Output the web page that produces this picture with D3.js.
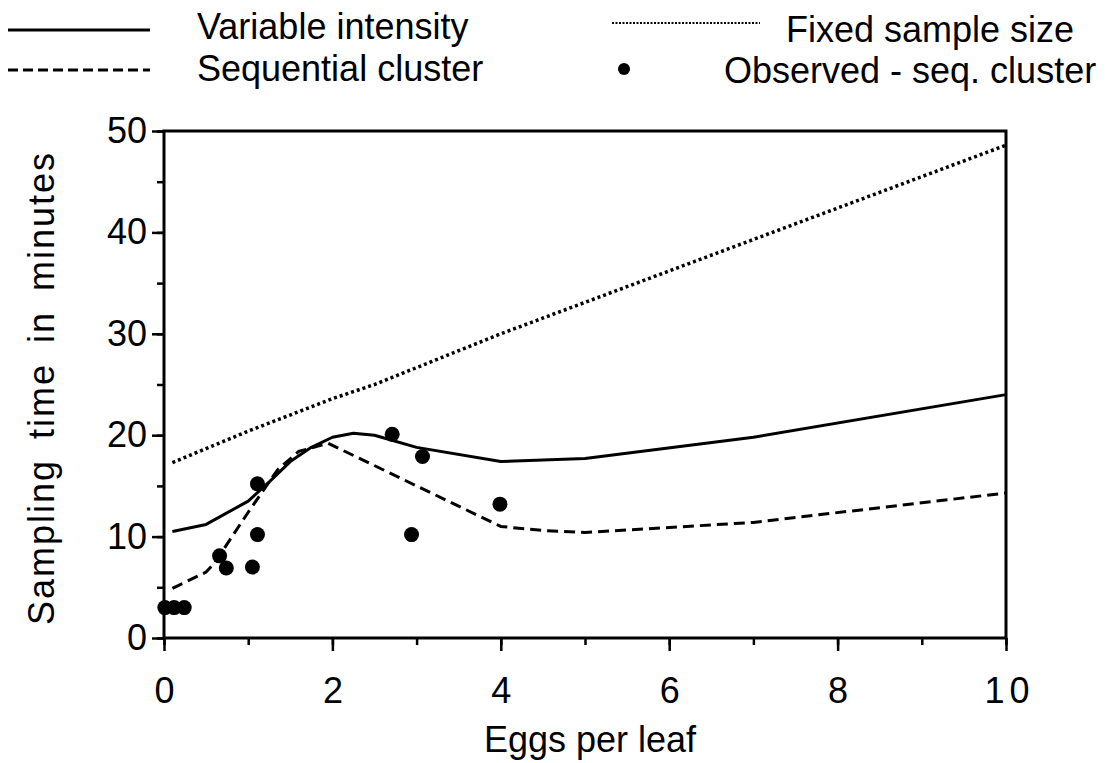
<!DOCTYPE html>
<html><head><meta charset="utf-8">
<script src="https://cdn.jsdelivr.net/npm/d3@7"></script>
<style>
body{margin:0;background:#fff;}
text{font-family:"Liberation Sans",Arial,sans-serif;fill:#000;}
</style></head>
<body><svg id="c" width="1118" height="763"></svg>
<script>
const varX = [0.1, 0.5, 1.0, 1.25, 1.5, 1.75, 2.0, 2.25, 2.5, 3.0, 4.0, 5.0, 7.0, 10.0];
const varY = [10.5, 11.2, 13.5, 15.4, 17.4, 18.8, 19.8, 20.2, 20.0, 18.8, 17.4, 17.7, 19.8, 24.0];
const seqX = [0.1, 0.5, 0.6, 1.0, 1.35, 1.6, 1.95, 3.0, 4.0, 4.5, 5.0, 7.0, 10.0];
const seqY = [4.9, 6.5, 7.4, 12.4, 16.6, 18.4, 19.2, 15.0, 11.0, 10.6, 10.4, 11.4, 14.3];
const fixX = [0.1, 1.0, 2.0, 2.5, 4.0, 7.0, 10.0];
const fixY = [17.3, 20.4, 23.6, 25.0, 30.0, 39.3, 48.6];
const obsX = [0.01, 0.12, 0.24, 0.66, 0.74, 1.05, 1.11, 1.11, 2.71, 2.94, 3.07, 3.99];
const obsY = [3, 3, 3, 8.1, 6.9, 7, 10.2, 15.2, 20.1, 10.2, 17.9, 13.2];
const xTicks = [0, 2, 4, 6, 8, 10];
const yTicks = [0, 10, 20, 30, 40, 50];
const legendLabels = ["Variable intensity", "Sequential cluster", "Fixed sample size", "Observed - seq. cluster"];
const xTitle = "Eggs per leaf";
const yTitle = "Sampling time in minutes";

const FS = 36;
const svg = d3.select("#c");
const x = d3.scaleLinear().domain([0, 10]).range([164, 1006]);
const y = d3.scaleLinear().domain([0, 50]).range([638, 131]);

// minor ticks
svg.append("g").attr("transform","translate(0,638)")
  .call(d3.axisBottom(x).tickValues(d3.range(0, 11, 1)).tickSize(7).tickFormat(""))
  .call(g=>{g.select(".domain").remove(); g.selectAll("line").attr("stroke-width",2.5);});
svg.append("g").attr("transform","translate(164,0)")
  .call(d3.axisLeft(y).tickValues(d3.range(0, 51, 5)).tickSize(7).tickFormat(""))
  .call(g=>{g.select(".domain").remove(); g.selectAll("line").attr("stroke-width",2.5);});

// major ticks
svg.append("g").attr("transform","translate(0,638)")
  .call(d3.axisBottom(x).tickValues(xTicks).tickSize(13).tickPadding(26).tickFormat(d=>d))
  .call(g=>{g.select(".domain").remove(); g.selectAll("line").attr("stroke-width",2.5);
    g.selectAll("text").attr("font-size",FS).attr("font-family","Liberation Sans, Arial, sans-serif")
     .attr("letter-spacing", d=>d===10?"5px":null).attr("dx", d=>d===10?"3px":null);});
svg.append("g").attr("transform","translate(164,0)")
  .call(d3.axisLeft(y).tickValues(yTicks).tickSize(12).tickPadding(5).tickFormat(d=>d))
  .call(g=>{g.select(".domain").remove(); g.selectAll("line").attr("stroke-width",2.5);
    g.selectAll("text").attr("font-size",FS).attr("font-family","Liberation Sans, Arial, sans-serif");});

// frame
svg.append("rect").attr("x",x(0)).attr("y",y(50)).attr("width",x(10)-x(0)).attr("height",y(0)-y(50))
  .attr("fill","none").attr("stroke","#000").attr("stroke-width",3);

const line = d3.line().x(d=>x(d[0])).y(d=>y(d[1])).curve(d3.curveLinear);
svg.append("path").attr("d", line(fixX.map((v,i)=>[v,fixY[i]])))
  .attr("fill","none").attr("stroke","#000").attr("stroke-width",3.5).attr("stroke-dasharray","3,3");
svg.append("path").attr("d", line(varX.map((v,i)=>[v,varY[i]])))
  .attr("fill","none").attr("stroke","#000").attr("stroke-width",3).attr("stroke-linejoin","round");
svg.append("path").attr("d", line(seqX.map((v,i)=>[v,seqY[i]])))
  .attr("fill","none").attr("stroke","#000").attr("stroke-width",3).attr("stroke-dasharray","11,6");

svg.append("g").selectAll("circle").data(obsX.map((v,i)=>[v,obsY[i]])).join("circle")
  .attr("cx",d=>x(d[0])).attr("cy",d=>y(d[1])).attr("r",7.5).attr("fill","#000");

// axis titles
svg.append("text").attr("x",590).attr("y",752).attr("text-anchor","middle").attr("font-size",FS).text(xTitle);
svg.append("text").attr("transform","translate(54,388) rotate(-90)").attr("text-anchor","middle")
  .attr("font-size",FS).attr("letter-spacing","2px").attr("word-spacing","8px").text(yTitle);

// legend
const lg = svg.append("g");
lg.append("line").attr("x1",8).attr("x2",150).attr("y1",30).attr("y2",30).attr("stroke","#000").attr("stroke-width",3);
lg.append("text").attr("x",197).attr("y",39).attr("font-size",FS).text(legendLabels[0]);
lg.append("line").attr("x1",8).attr("x2",150).attr("y1",70).attr("y2",70).attr("stroke","#000").attr("stroke-width",3).attr("stroke-dasharray","10,5");
lg.append("text").attr("x",197).attr("y",81).attr("font-size",FS).text(legendLabels[1]);
lg.append("line").attr("x1",612).attr("x2",760).attr("y1",23).attr("y2",23).attr("stroke","#000").attr("stroke-width",2).attr("stroke-dasharray","2,1.5");
lg.append("text").attr("x",786).attr("y",42).attr("font-size",FS).text(legendLabels[2]);
lg.append("circle").attr("cx",624).attr("cy",69).attr("r",6).attr("fill","#000");
lg.append("text").attr("x",724).attr("y",83).attr("font-size",FS).text(legendLabels[3]);
</script></body></html>
